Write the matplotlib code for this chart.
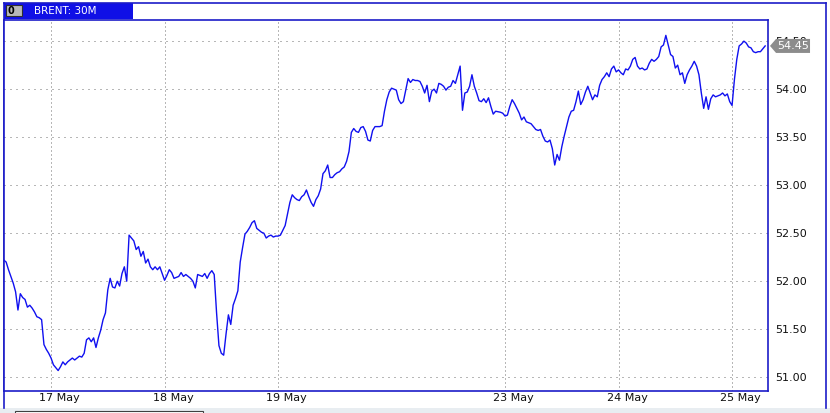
import matplotlib
matplotlib.use("Agg")
import matplotlib.pyplot as plt
from matplotlib.patches import Rectangle, Polygon
from matplotlib.transforms import ScaledTranslation, blended_transform_factory

# BRENT 30M closes, bar 0 = 17 May 00:00 (weekend bars skipped)
bar = [-20, -19, -18, -17, -16, -15, -14, -13, -12, -11, -10, -9, -8, -7, -6, -5, -4, -3, -2, -1,
       0, 1, 3, 4, 5, 6, 7, 9, 10, 12, 13, 14, 15, 16, 17, 18, 19, 20, 21, 22,
       23, 24, 25, 26, 27, 28, 29, 30, 31, 32, 33, 34, 35, 36, 37, 38, 39, 40, 41, 42,
       43, 44, 45, 46, 47, 48, 49, 50, 51, 52, 54, 55, 56, 57, 59, 60, 61, 62, 64, 65,
       66, 67, 68, 69, 70, 71, 72, 73, 74, 75, 76, 77, 78, 79, 80, 81, 82, 83, 84, 85,
       86, 87, 88, 89, 90, 91, 92, 93, 94, 95, 96, 97, 98, 99, 100, 101, 102, 103, 104, 105,
       106, 107, 108, 109, 110, 111, 112, 113, 114, 115, 116, 117, 118, 119, 120, 121, 122, 123, 124, 125,
       126, 127, 128, 129, 130, 131, 132, 133, 134, 135, 136, 137, 138, 139, 140, 141, 142, 143, 144, 145,
       146, 147, 148, 149, 150, 151, 152, 153, 154, 155, 156, 157, 158, 159, 160, 161, 162, 163, 164, 165,
       166, 167, 168, 169, 170, 171, 172, 173, 174, 175, 176, 177, 178, 179, 180, 181, 182, 183, 184, 185,
       186, 187, 188, 190, 191, 192, 193, 194, 195, 196, 197, 198, 199, 200, 201, 202, 203, 204, 205, 206,
       207, 208, 209, 210, 211, 212, 213, 214, 215, 216, 217, 218, 219, 220, 221, 222, 223, 224, 225, 226,
       227, 228, 229, 230, 231, 232, 233, 234, 235, 236, 237, 238, 239, 240, 241, 242, 243, 244, 245, 246,
       247, 248, 249, 250, 251, 252, 253, 254, 255, 256, 257, 258, 259, 260, 261, 262, 263, 264, 265, 266,
       267, 268, 269, 270, 271, 272, 273, 274, 275, 276, 277, 278, 279, 280, 281, 283, 284, 285, 286, 287,
       288, 289, 290, 291, 292, 293, 294, 295, 296, 297, 298, 299, 300, 301, 302]
price = [52.22, 52.20, 52.12, 52.05, 51.98, 51.89, 51.70, 51.87, 51.83, 51.81, 51.73, 51.75, 51.72, 51.68, 51.63, 51.62, 51.60, 51.34, 51.29, 51.25,
         51.20, 51.13, 51.07, 51.11, 51.16, 51.13, 51.16, 51.20, 51.18, 51.22, 51.21, 51.25, 51.39, 51.41, 51.37, 51.41, 51.31, 51.41, 51.49, 51.60,
         51.67, 51.91, 52.03, 51.94, 51.93, 52.00, 51.95, 52.08, 52.15, 52.00, 52.48, 52.45, 52.42, 52.33, 52.36, 52.26, 52.31, 52.19, 52.23, 52.15,
         52.12, 52.15, 52.12, 52.15, 52.08, 52.01, 52.06, 52.12, 52.09, 52.03, 52.05, 52.09, 52.05, 52.07, 52.03, 52.00, 51.93, 52.07, 52.05, 52.08,
         52.03, 52.08, 52.11, 52.07, 51.67, 51.33, 51.25, 51.23, 51.45, 51.65, 51.55, 51.75, 51.82, 51.90, 52.20, 52.35, 52.49, 52.52, 52.56, 52.61,
         52.63, 52.55, 52.53, 52.51, 52.50, 52.45, 52.47, 52.48, 52.46, 52.47, 52.47, 52.48, 52.53, 52.58, 52.70, 52.82, 52.90, 52.87, 52.85, 52.84,
         52.88, 52.90, 52.95, 52.88, 52.82, 52.78, 52.85, 52.89, 52.96, 53.12, 53.15, 53.21, 53.08, 53.08, 53.11, 53.13, 53.14, 53.17, 53.19, 53.25,
         53.35, 53.55, 53.59, 53.56, 53.55, 53.60, 53.61, 53.56, 53.47, 53.46, 53.57, 53.61, 53.61, 53.61, 53.62, 53.77, 53.89, 53.97, 54.01, 54.00,
         53.99, 53.89, 53.85, 53.87, 53.99, 54.11, 54.07, 54.10, 54.09, 54.09, 54.08, 54.03, 53.96, 54.04, 53.87, 53.98, 54.00, 53.96, 54.06, 54.05,
         54.03, 53.99, 54.02, 54.03, 54.09, 54.06, 54.15, 54.24, 53.78, 53.96, 53.97, 54.03, 54.15, 54.03, 53.96, 53.88, 53.87, 53.90, 53.86, 53.91,
         53.82, 53.74, 53.77, 53.76, 53.75, 53.72, 53.73, 53.82, 53.89, 53.85, 53.80, 53.75, 53.68, 53.71, 53.66, 53.65, 53.64, 53.61, 53.58, 53.57,
         53.58, 53.51, 53.46, 53.45, 53.47, 53.38, 53.21, 53.32, 53.26, 53.40, 53.51, 53.61, 53.71, 53.77, 53.78, 53.87, 53.98, 53.84, 53.89, 53.97,
         54.03, 53.96, 53.89, 53.94, 53.92, 54.04, 54.10, 54.13, 54.17, 54.13, 54.21, 54.24, 54.18, 54.20, 54.17, 54.15, 54.21, 54.20, 54.24, 54.31,
         54.33, 54.24, 54.21, 54.22, 54.20, 54.21, 54.27, 54.31, 54.29, 54.31, 54.34, 54.44, 54.46, 54.56, 54.46, 54.36, 54.34, 54.22, 54.25, 54.15,
         54.17, 54.06, 54.15, 54.20, 54.24, 54.29, 54.24, 54.15, 53.96, 53.80, 53.92, 53.79, 53.90, 53.94, 53.92, 53.94, 53.96, 53.93, 53.95, 53.87,
         53.83, 54.10, 54.31, 54.45, 54.47, 54.50, 54.48, 54.44, 54.43, 54.39, 54.38, 54.39, 54.39, 54.42, 54.45]

day_bars = [0, 48, 96, 192, 240, 288]
day_labels = ['17 May', '18 May', '19 May', '23 May', '24 May', '25 May']
price_ticks = [51.0, 51.5, 52.0, 52.5, 53.0, 53.5, 54.0, 54.5]

W, H = 830, 413
frame_blue = '#1c1cc8'
fig = plt.figure(figsize=(W / 100, H / 100), dpi=100, facecolor='white')

# pixel-coordinate layer for the window chrome
bg = fig.add_axes([0, 0, 1, 1], zorder=0)
bg.set_xlim(0, W)
bg.set_ylim(H, 0)
bg.axis('off')
bg.add_patch(Rectangle((0, 408), W, 6, facecolor='#e8edf1', edgecolor='none'))
bg.add_patch(Rectangle((15, 410.5), 188, 5, facecolor='white', edgecolor='#404040', lw=0.8))
bg.plot([3.5, 825.5], [3, 3], color=frame_blue, lw=1.2)
bg.plot([825.5, 825.5], [3, 408], color=frame_blue, lw=1.2)
bg.plot([3.5, 3.5], [3, 408], color=frame_blue, lw=1.2)
bg.add_patch(Rectangle((3.5, 3), 129.5, 15.5, facecolor='#1010e6', edgecolor='none'))
bg.add_patch(Rectangle((6, 5), 16, 11, facecolor='#b8b8b8', edgecolor='#303030', lw=0.8))
bg.text(11, 10.8, '0', color='black', fontsize=7, fontweight='bold', ha='center', va='center')
bg.text(34, 11, 'BRENT: 30M', color='white', fontsize=7.5, ha='left', va='center')

ax = fig.add_axes([4 / W, (H - 391) / H, (768 - 4) / W, (391 - 20) / H], zorder=1)
ax.set_facecolor('white')

for p in price_ticks:
    ax.axhline(p, color='#707070', lw=0.72, ls=(0, (1, 5)), zorder=1)
for b in day_bars:
    ax.axvline(b, color='#707070', lw=0.72, ls=(0, (1, 3)), zorder=1)

ax.plot(bar, price, color='#1010f0', lw=1.0, zorder=3)

ax.set_xlim(-19.9, 303.2)
ax.set_ylim(50.857, 54.72)
ax.set_xticks(day_bars)
ax.set_xticklabels(day_labels)
ax.set_yticks(price_ticks)
ax.set_yticklabels([f'{p:.2f}' for p in price_ticks])
ax.yaxis.tick_right()
ax.tick_params(axis='x', length=0, pad=1.5, labelsize=8, colors='#101010')
ax.tick_params(axis='y', length=0, pad=5, labelsize=8, colors='#101010')
for lab in ax.get_xticklabels():
    lab.set_horizontalalignment('left')
    lab.set_transform(lab.get_transform() + ScaledTranslation(-12 / 100, 0, fig.dpi_scale_trans))
for side in ['left', 'right', 'top', 'bottom']:
    ax.spines[side].set_color(frame_blue)
    ax.spines[side].set_linewidth(1.2)

# last price tag on the price scale
tr = blended_transform_factory(ax.transAxes, ax.transData)
last = price[-1]
h = 7 / 96
tag = Polygon([(1.0026, last), (1.0105, last + h), (1.055, last + h), (1.055, last - h), (1.0105, last - h)],
              closed=True, transform=tr, facecolor='#8c8c8c', edgecolor='none', clip_on=False, zorder=5)
ax.add_patch(tag)
ax.text(1.0115, last, f'{last:.2f}', transform=tr, color='white', fontsize=8, ha='left', va='center',
        clip_on=False, zorder=6)

fig.savefig('out.png', dpi=100, facecolor='white')
